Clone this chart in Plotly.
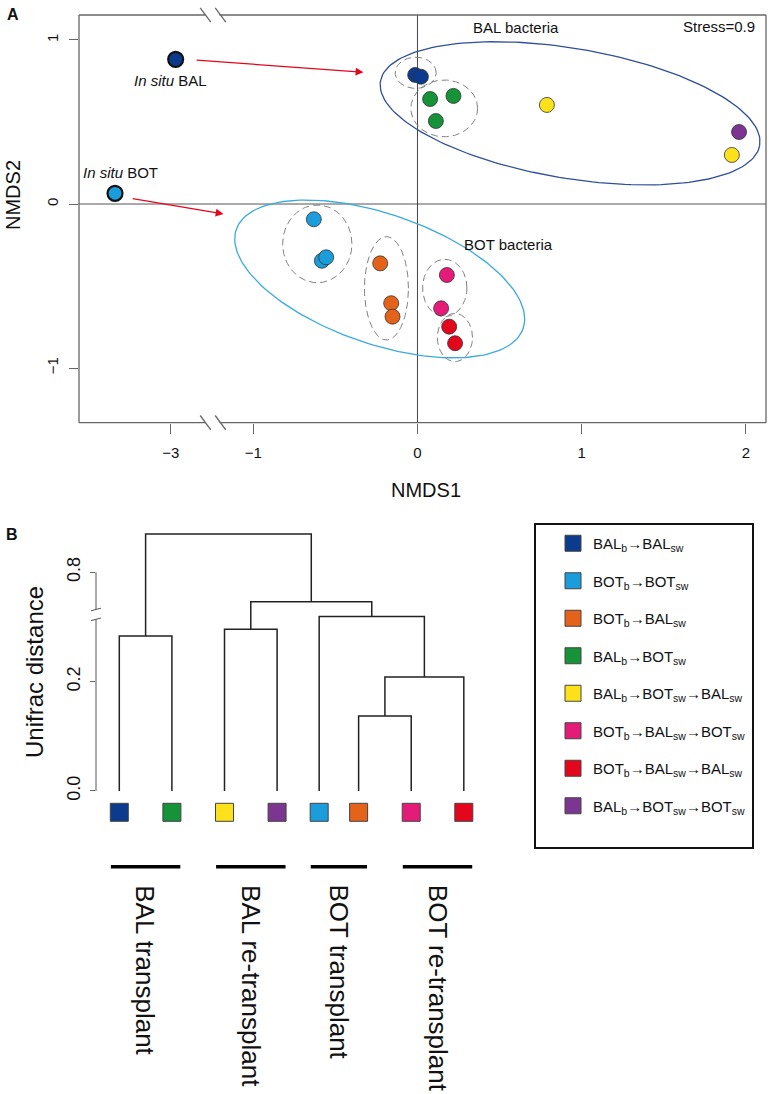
import numpy as np
import plotly.graph_objects as go

W, H = 769, 1094
FONT = "Liberation Sans, Arial, sans-serif"

# ---------------- treatments (legend order) ----------------
treat_labels = [
    "BAL<sub>b</sub>→BAL<sub>sw</sub>",
    "BOT<sub>b</sub>→BOT<sub>sw</sub>",
    "BOT<sub>b</sub>→BAL<sub>sw</sub>",
    "BAL<sub>b</sub>→BOT<sub>sw</sub>",
    "BAL<sub>b</sub>→BOT<sub>sw</sub>→BAL<sub>sw</sub>",
    "BOT<sub>b</sub>→BAL<sub>sw</sub>→BOT<sub>sw</sub>",
    "BOT<sub>b</sub>→BAL<sub>sw</sub>→BAL<sub>sw</sub>",
    "BAL<sub>b</sub>→BOT<sub>sw</sub>→BOT<sub>sw</sub>",
]
treat_colors = ["#0c3a8d", "#1b9ddb", "#e5621a", "#169238",
                "#fde21b", "#e41b79", "#e3061c", "#7c3590"]

# ---------------- Panel A: NMDS scores ----------------
bal_bal_x = [-0.014, 0.021]
bal_bal_y = [0.787, 0.776]
bot_bot_x = [-0.631, -0.582, -0.556]
bot_bot_y = [-0.093, -0.346, -0.325]
bot_bal_x = [-0.227, -0.160, -0.152]
bot_bal_y = [-0.362, -0.605, -0.687]
bal_bot_x = [0.077, 0.219, 0.112]
bal_bot_y = [0.640, 0.659, 0.506]
bal_bot_bal_x = [0.788, 1.914]
bal_bot_bal_y = [0.604, 0.299]
bot_bal_bot_x = [0.179, 0.144]
bot_bal_bot_y = [-0.433, -0.636]
bot_bal_bal_x = [0.193, 0.229]
bot_bal_bal_y = [-0.748, -0.849]
bal_bot_bot_x = [1.958]
bal_bot_bot_y = [0.439]

nmds_x = [bal_bal_x, bot_bot_x, bot_bal_x, bal_bot_x,
          bal_bot_bal_x, bot_bal_bot_x, bot_bal_bal_x, bal_bot_bot_x]
nmds_y = [bal_bal_y, bot_bot_y, bot_bal_y, bal_bot_y,
          bal_bot_bal_y, bot_bal_bot_y, bot_bal_bal_y, bal_bot_bot_y]

insitu_x = [-2.970, -3.339]
insitu_y = [0.882, 0.065]
insitu_colors = ["#0c3a8d", "#1b9ddb"]
insitu_labels = ["<i>In situ</i> BAL", "<i>In situ</i> BOT"]
insitu_label_x = [-3.00, -3.304]
insitu_label_y = [0.756, 0.189]

# group ellipses (BAL bacteria, BOT bacteria)
grp_ell_cx = [0.929, -0.230]
grp_ell_cy = [0.553, -0.457]
grp_ell_a = [1.171, 0.924]
grp_ell_b = [0.396, 0.396]
grp_ell_ang = [-9.6, -19.1]
grp_ell_col = ["#2f4f9a", "#3aaade"]

# dashed treatment ellipses
dash_ell_cx = [-0.011, 0.163, -0.610, -0.189, 0.166, 0.228]
dash_ell_cy = [0.800, 0.583, -0.243, -0.514, -0.512, -0.814]
dash_ell_rx = [0.125, 0.203, 0.211, 0.134, 0.135, 0.107]
dash_ell_ry = [0.095, 0.173, 0.237, 0.315, 0.175, 0.147]

# ---------------- Panel B: dendrogram ----------------
leaf_treat = [0, 3, 4, 7, 1, 2, 5, 6]
leaf_x = [1, 2, 3, 4, 4.8, 5.55, 6.55, 7.55]
merge_a = ["L5", "M0", "L0", "L2", "L4", "M3", "M2"]
merge_b = ["L6", "L7", "L1", "L3", "M1", "M4", "M5"]
merge_h = [0.137, 0.2085, 0.2835, 0.296, 0.319, 0.746, 0.870]

group_names = ["BAL transplant", "BAL re-transplant", "BOT transplant", "BOT re-transplant"]
group_first = [0, 2, 4, 6]
group_last = [1, 3, 5, 7]


def ellipse(cx, cy, a, b, ang):
    t = np.linspace(0, 2 * np.pi, 181)
    r = np.deg2rad(ang)
    ex = a * np.cos(t)
    ey = b * np.sin(t)
    return cx + ex * np.cos(r) - ey * np.sin(r), cy + ex * np.sin(r) + ey * np.cos(r)


fig = go.Figure()

# ellipses
for i in range(len(grp_ell_cx)):
    ex, ey = ellipse(grp_ell_cx[i], grp_ell_cy[i], grp_ell_a[i], grp_ell_b[i], grp_ell_ang[i])
    fig.add_trace(go.Scatter(x=ex, y=ey, mode="lines", xaxis="x2", yaxis="y",
                             line=dict(color=grp_ell_col[i], width=1.3),
                             showlegend=False, hoverinfo="skip"))
for i in range(len(dash_ell_cx)):
    ex, ey = ellipse(dash_ell_cx[i], dash_ell_cy[i], dash_ell_rx[i], dash_ell_ry[i], 0)
    fig.add_trace(go.Scatter(x=ex, y=ey, mode="lines", xaxis="x2", yaxis="y",
                             line=dict(color="#808080", width=1, dash="7px,4px"),
                             showlegend=False, hoverinfo="skip"))

# NMDS points
for i in range(8):
    fig.add_trace(go.Scatter(x=nmds_x[i], y=nmds_y[i], mode="markers", xaxis="x2", yaxis="y",
                             marker=dict(size=15, color=treat_colors[i],
                                         line=dict(color="#333333", width=0.8)),
                             showlegend=False, hoverinfo="skip"))
fig.add_trace(go.Scatter(x=insitu_x, y=insitu_y, mode="markers", xaxis="x", yaxis="y",
                         marker=dict(size=15, color=insitu_colors,
                                     line=dict(color="#111111", width=2.2)),
                         showlegend=False, hoverinfo="skip"))

# dendrogram
pos = {}
hgt = {}
for i, x in enumerate(leaf_x):
    pos["L%d" % i] = x
    hgt["L%d" % i] = 0.0
dx, dy = [], []
for k in range(len(merge_h)):
    a, b, h = merge_a[k], merge_b[k], merge_h[k]
    dx += [pos[a], pos[a], pos[b], pos[b], None]
    dy += [hgt[a], h, h, hgt[b], None]
    pos["M%d" % k] = (pos[a] + pos[b]) / 2
    hgt["M%d" % k] = h
for ya in ["y3", "y4"]:
    fig.add_trace(go.Scatter(x=dx, y=dy, mode="lines", xaxis="x3", yaxis=ya,
                             line=dict(color="#222222", width=1.5),
                             showlegend=False, hoverinfo="skip"))

# leaf squares (legend entries)
for j, t in enumerate(leaf_treat):
    fig.add_trace(go.Scatter(x=[leaf_x[j]], y=[-0.039], mode="markers", xaxis="x3", yaxis="y3",
                             marker=dict(symbol="square", size=18, color=treat_colors[t],
                                         line=dict(color="#444444", width=1)),
                             name=treat_labels[t], legendgroup="g%d" % t, legendrank=t + 1,
                             showlegend=True, hoverinfo="skip"))

# group bars
for g in range(4):
    x0 = leaf_x[group_first[g]] - 0.16
    x1 = leaf_x[group_last[g]] + 0.16
    fig.add_trace(go.Scatter(x=[x0, x1], y=[-0.1385, -0.1385], mode="lines", xaxis="x3", yaxis="y3",
                             line=dict(color="#000000", width=3.4),
                             showlegend=False, hoverinfo="skip"))

# ---------------- shapes ----------------
shapes = []
BOX = dict(color="#666666", width=1.3)
brk = (205.5 - 79) / (212.5 - 79)
brk2 = (219.5 - 212.5) / (766 - 212.5)
shapes += [
    dict(type="line", xref="x domain", yref="y domain", x0=0, x1=0, y0=0, y1=1, line=BOX),
    dict(type="line", xref="x2 domain", yref="y domain", x0=1, x1=1, y0=0, y1=1, line=BOX),
    dict(type="line", xref="x domain", yref="y domain", x0=0, x1=brk, y0=1, y1=1, line=BOX),
    dict(type="line", xref="x2 domain", yref="y domain", x0=brk2, x1=1, y0=1, y1=1, line=BOX),
    dict(type="line", xref="x domain", yref="y domain", x0=0, x1=brk, y0=0, y1=0, line=BOX),
    dict(type="line", xref="x2 domain", yref="y domain", x0=brk2, x1=1, y0=0, y1=0, line=BOX),
    # zero lines
    dict(type="line", xref="x domain", yref="y", x0=0, x1=1, y0=0, y1=0,
         line=dict(color="#555555", width=1), layer="below"),
    dict(type="line", xref="x2 domain", yref="y", x0=0, x1=1, y0=0, y1=0,
         line=dict(color="#555555", width=1), layer="below"),
    dict(type="line", xref="x2", yref="y domain", x0=0, x1=0, y0=0, y1=1,
         line=dict(color="#444444", width=1), layer="below"),
]
# axis-break slashes panel A
for yd in [0, 1]:
    for cx in [-7, 8]:
        shapes.append(dict(type="line", xref="x2 domain", yref="y domain",
                           xsizemode="pixel", ysizemode="pixel", xanchor=0, yanchor=yd,
                           x0=cx - 5.3, x1=cx + 5.3, y0=7.2, y1=-7.2, line=BOX))
# panel B axis
AX = dict(color="#555555", width=1)
shapes += [
    dict(type="line", xref="x3 domain", yref="y3", x0=0, x1=0, y0=0, y1=0.314, line=AX),
    dict(type="line", xref="x3 domain", yref="y4", x0=0, x1=0, y0=0.732, y1=0.8, line=AX),
    dict(type="line", xref="x3 domain", yref="y3", xsizemode="pixel", ysizemode="pixel",
         xanchor=0, yanchor=0.314, x0=-5, x1=5, y0=-1.3, y1=1.3, line=AX),
    dict(type="line", xref="x3 domain", yref="y4", xsizemode="pixel", ysizemode="pixel",
         xanchor=0, yanchor=0.732, x0=-5, x1=5, y0=-1.3, y1=1.3, line=AX),
]
# legend frame
shapes.append(dict(type="rect", xref="paper", yref="paper",
                   x0=535 / W, x1=753 / W, y0=1 - 848 / H, y1=1 - 524 / H,
                   line=dict(color="#111111", width=2)))

# ---------------- annotations ----------------
ann = []
def txt(text, x, y, xref="paper", yref="paper", size=15, **kw):
    d = dict(text=text, x=x, y=y, xref=xref, yref=yref, showarrow=False,
             xanchor="center", yanchor="middle",
             font=dict(family=FONT, size=size, color="#111111"))
    d.update(kw)
    ann.append(d)

txt("<b>A</b>", 13 / W, 1 - 14 / H, size=16)
txt("<b>B</b>", 12 / W, 1 - 534 / H, size=16)
txt("NMDS1", 426 / W, 1 - 490 / H, size=20)
txt("NMDS2", 13 / W, 1 - 195 / H, size=20, textangle=-90)
txt("Unifrac distance", 34 / W, 1 - 672 / H, size=24, textangle=-90)
for i in range(2):
    txt(insitu_labels[i], insitu_label_x[i], insitu_label_y[i], xref="x", yref="y")
txt("BAL bacteria", 0.600, 1.079, xref="x2", yref="y")
txt("BOT bacteria", 0.274, -0.244, xref="x2", yref="y", xanchor="left")
txt("Stress=0.9", 2.066, 1.085, xref="x2", yref="y", xanchor="right")

# arrows from in situ samples
arrow_head_x = [-0.329, -1.181]
arrow_head_y = [0.803, -0.061]
arrow_tail_dx = [-168.3, -92.3]
arrow_tail_dy = [-12.3, -15.7]
for i in range(2):
    ann.append(dict(text="", x=arrow_head_x[i], y=arrow_head_y[i], xref="x2", yref="y",
                    ax=arrow_tail_dx[i], ay=arrow_tail_dy[i], axref="pixel", ayref="pixel",
                    showarrow=True, arrowhead=2, arrowsize=1.3, arrowwidth=1.2,
                    arrowcolor="#e3061c", standoff=0))

for g in range(4):
    cx = (leaf_x[group_first[g]] + leaf_x[group_last[g]]) / 2
    txt(group_names[g], cx, -0.168, xref="x3", yref="y3", size=26,
        textangle=90, yanchor="top")

# ---------------- layout ----------------
tickfont = dict(family=FONT, size=15, color="#111111")
common = dict(showgrid=False, zeroline=False, showline=False, ticks="outside",
              tickcolor="#666666", tickwidth=1)
fig.update_layout(
    width=W, height=H, autosize=False,
    margin=dict(l=0, r=0, t=0, b=0),
    paper_bgcolor="white", plot_bgcolor="white",
    font=dict(family=FONT, color="#111111"),
    hovermode=False,
    shapes=shapes, annotations=ann,
    xaxis=dict(domain=[79 / W, 212.5 / W], range=[-3.558, -2.746], anchor="y",
               tickvals=[-3], ticktext=["−3"], ticklen=10, tickfont=tickfont,
               ticklabelstandoff=6, **common),
    xaxis2=dict(domain=[212.5 / W, 766 / W], range=[-1.248, 2.122], anchor="y",
                tickvals=[-1, 0, 1, 2], ticktext=["−1", "0", "1", "2"], ticklen=10,
                tickfont=tickfont, ticklabelstandoff=6, **common),
    yaxis=dict(domain=[1 - 422.7 / H, 1 - 15 / H], range=[-1.3335, 1.1524], anchor="x",
               tickvals=[-1, 0, 1], ticktext=["−1", "0", "1"], tickangle=-90, ticklen=9,
               tickfont=tickfont, ticklabelstandoff=5, **common),
    xaxis3=dict(domain=[96 / W, 500 / W], range=[0.557, 8.238], anchor="y3",
                visible=False),
    yaxis3=dict(domain=[0, 1 - 614 / H], range=[-0.5542, 0.3237], anchor="x3",
                tickvals=[0, 0.2], ticktext=["0.0", "0.2"], tickangle=-90, ticklen=5,
                tickfont=dict(family=FONT, size=18, color="#111111"),
                ticklabelstandoff=3, **common),
    yaxis4=dict(domain=[1 - 614 / H, 1 - 520 / H], range=[0.7237, 0.8957], anchor="x3",
                tickvals=[0.8], ticktext=["0.8"], tickangle=-90, ticklen=5,
                tickfont=dict(family=FONT, size=18, color="#111111"),
                ticklabelstandoff=3, **common),
    legend=dict(x=553 / W, y=1 - 527 / H, xanchor="left", yanchor="top",
                bgcolor="rgba(0,0,0,0)", borderwidth=0, tracegroupgap=15,
                font=dict(family=FONT, size=15, color="#111111"),
                traceorder="grouped"),
    showlegend=True,
)

fig.write_html("out.html", config={"displayModeBar": False},
               post_script="document.body.style.margin='0px';document.body.style.overflow='hidden';")
